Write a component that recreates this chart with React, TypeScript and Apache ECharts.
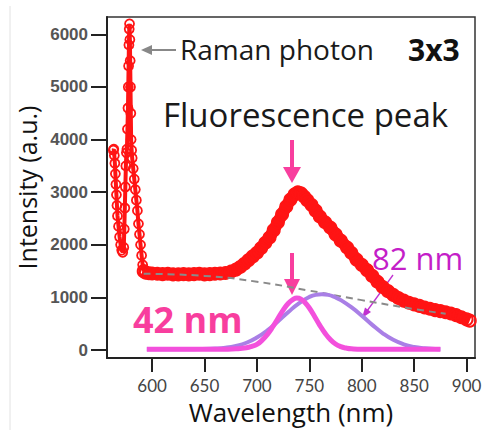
import React, { useEffect, useRef } from "react";
import * as echarts from "echarts";

// Measured spectrum (red circles)
const wavelengthNm = [
  563, 563.5, 564, 564.5, 565, 565.5, 566, 566.5, 567, 568, 569, 570, 571, 572,
  573, 573.5, 574, 574.5, 575, 575.5, 576, 576.5, 577, 577.3, 577.6, 577.9, 578.2, 578.5,
  578.8, 579.1, 579.4, 579.7, 580, 580.5, 581, 582, 583, 584, 585, 586, 587, 588, 589, 590,
  591, 592, 594, 597, 600, 605, 610, 615, 620, 625, 630, 635, 640, 645, 650, 655, 660, 665,
  670, 675, 680, 684, 688, 692, 696, 700, 704, 708, 712, 716, 720, 724, 728, 732, 736, 739,
  742, 745, 748, 752, 756, 760, 765, 770, 775, 780, 786, 790, 795, 800, 805, 810, 815, 820,
  825, 830, 835, 840, 845, 850, 855, 860, 865, 870, 875, 880, 885, 890, 895, 900, 903,
];
const intensityAu = [
  3800, 3820, 3700, 3550, 3350, 3150, 2950, 2750, 2550, 2350, 2150, 2000, 1900, 1860,
  1950, 2300, 2700, 3100, 3500, 3750, 3820, 4200, 4600, 5000, 5400, 5800, 6100, 6200,
  5900, 5500, 5000, 4500, 4000, 3800, 3650, 3450, 3250, 3050, 2850, 2650, 2400, 2200, 2000, 1800,
  1620, 1500, 1470, 1460, 1455, 1450, 1445, 1450, 1440, 1440, 1445, 1440, 1445, 1450, 1440, 1445, 1450, 1455,
  1465, 1490, 1530, 1580, 1640, 1710, 1780, 1850, 1940, 2040, 2140, 2280, 2430, 2580, 2730, 2860, 2960, 3000,
  2980, 2920, 2850, 2760, 2650, 2540, 2430, 2330, 2200, 2080, 1950, 1850, 1720, 1620, 1520, 1410, 1300, 1200,
  1120, 1050, 990, 940, 900, 870, 840, 810, 785, 760, 740, 720, 695, 665, 625, 585, 560,
];
// the Raman region is drawn with a thin line, the fluorescence region with a heavy band
const ramanEndNm = 592;

// Gray dashed background
const baselineNm = [592, 650, 700, 750, 800, 850, 880];
const baselineAu = [1450, 1410, 1300, 1130, 950, 780, 690];

// Narrow component (42 nm)
const narrowNm = [595, 620, 650, 670, 680, 690, 695, 700, 705, 710, 715, 720, 725, 730, 735, 738, 742, 746, 750, 755, 760, 765, 770, 775, 780, 785, 790, 800, 830, 875];
const narrowAu = [15, 15, 15, 18, 25, 45, 70, 110, 190, 300, 440, 600, 760, 890, 970, 990, 970, 900, 800, 640, 470, 320, 200, 115, 65, 40, 25, 15, 15, 15];

// Broad component (82 nm)
const broadNm = [595, 640, 660, 670, 680, 690, 700, 710, 720, 730, 740, 750, 756, 762, 768, 775, 780, 790, 800, 810, 820, 830, 840, 850, 860, 870, 875];
const broadAu = [15, 18, 30, 45, 80, 140, 240, 375, 545, 725, 890, 1010, 1050, 1060, 1050, 1000, 950, 815, 655, 480, 320, 195, 110, 60, 35, 20, 15];

const xTicks = [600, 650, 700, 750, 800, 850, 900];
const yTicks = [0, 1000, 2000, 3000, 4000, 5000, 6000];

const zip = (xs: number[], ys: number[]) => xs.map((x, i) => [x, ys[i]]);

export default function App() {
  const ref = useRef<HTMLDivElement>(null);
  useEffect(() => {
    document.body.style.margin = "0";
    if (!ref.current) return;
    const chart = echarts.init(ref.current, undefined, { renderer: "svg" });
    const pink = "#f83e9e";
    const red = "#ff1414";
    const all = zip(wavelengthNm, intensityAu);
    const ramanPart = all.filter((p) => p[0] <= ramanEndNm);
    const fluorPart = all.filter((p) => p[0] >= ramanEndNm);
    const txt = (extra: any) => ({ textAlign: "left", textVerticalAlign: "middle", align: "left", verticalAlign: "middle", ...extra });
    const option: any = {
      animation: false,
      backgroundColor: "#ffffff",
      grid: {
        left: 107, top: 17, right: 10, bottom: 68,
        show: true, borderColor: "#333", borderWidth: 1.5, backgroundColor: "transparent",
      },
      xAxis: {
        type: "value", min: 557, max: 908,
        name: "Wavelength (nm)", nameLocation: "middle", nameGap: 41,
        nameTextStyle: { fontFamily: "Open Sans", fontSize: 26, lineHeight: 26, color: "#111" },
        axisLine: { show: true, onZero: false, lineStyle: { color: "#222", width: 2 } },
        axisTick: { show: true, length: 14, customValues: xTicks, lineStyle: { color: "#222", width: 2 } },
        axisLabel: { customValues: xTicks, fontFamily: "Lato", fontSize: 17, lineHeight: 17, color: "#444", margin: 19 },
        splitLine: { show: false },
      },
      yAxis: {
        type: "value", min: -150, max: 6330,
        name: "Intensity (a.u.)", nameLocation: "middle", nameGap: 57,
        nameTextStyle: { fontFamily: "Open Sans", fontSize: 25, color: "#111" },
        axisLine: { show: true, onZero: false, lineStyle: { color: "#222", width: 2 } },
        axisTick: { show: true, length: 16, customValues: yTicks, lineStyle: { color: "#222", width: 2 } },
        axisLabel: {
          customValues: yTicks, formatter: (v: number) => String(v),
          fontFamily: "Liberation Sans", fontWeight: "bold", fontSize: 17, color: "#555", margin: 19,
        },
        splitLine: { show: false },
      },
      series: [
        {
          type: "line", data: ramanPart,
          symbol: "circle", symbolSize: 9,
          itemStyle: { color: "rgba(0,0,0,0)", borderColor: red, borderWidth: 1.8 },
          lineStyle: { color: red, width: 4 },
          z: 2,
        },
        {
          type: "line", data: fluorPart, smooth: 0.3,
          symbol: "circle", symbolSize: 12,
          itemStyle: { color: "rgba(0,0,0,0)", borderColor: red, borderWidth: 2 },
          lineStyle: { color: red, width: 12 },
          z: 2,
        },
        {
          type: "line", data: zip(baselineNm, baselineAu), symbol: "none", smooth: true,
          lineStyle: { color: "#8a8a8a", width: 2, type: [7, 5] }, z: 3,
        },
        {
          type: "line", data: zip(broadNm, broadAu), symbol: "none", smooth: true,
          lineStyle: { color: "#a97fe6", width: 4 }, z: 4,
        },
        {
          type: "line", data: zip(narrowNm, narrowAu), symbol: "none", smooth: true,
          lineStyle: { color: "#f350dc", width: 5 }, z: 5,
        },
      ],
      graphic: [
        { type: "line", shape: { x1: 10, y1: 6, x2: 10, y2: 430 }, style: { stroke: "#e2e2e2", lineWidth: 1 } },
        // Raman arrow
        { type: "line", shape: { x1: 176, y1: 50, x2: 150, y2: 50 }, style: { stroke: "#888", lineWidth: 2 } },
        { type: "polygon", shape: { points: [[141, 50], [152, 45], [152, 55]] }, style: { fill: "#888" } },
        // Pink arrows
        { type: "line", shape: { x1: 292, y1: 140, x2: 292, y2: 170 }, style: { stroke: pink, lineWidth: 4 } },
        { type: "polygon", shape: { points: [[283, 167], [301, 167], [292, 183]] }, style: { fill: pink } },
        { type: "line", shape: { x1: 292, y1: 253, x2: 292, y2: 282 }, style: { stroke: pink, lineWidth: 4 } },
        { type: "polygon", shape: { points: [[284, 279], [300, 279], [292, 295]] }, style: { fill: pink } },
        // 82 nm arrow
        { type: "line", shape: { x1: 393, y1: 275, x2: 367, y2: 311 }, style: { stroke: "#c030d0", lineWidth: 1.3 } },
        { type: "polygon", shape: { points: [[362, 318], [371, 312], [365, 307.5]] }, style: { fill: "#c030d0" } },
        // Texts
        { type: "text", x: 180, y: 49, style: txt({ text: "Raman photon", fontFamily: "Open Sans", fontSize: 28, fill: "#1a1a1a" }) },
        { type: "text", x: 408, y: 49, style: txt({ text: "3x3", fontFamily: "Open Sans", fontWeight: "bold", fontSize: 30, fill: "#111" }) },
        { type: "text", x: 163, y: 114, style: txt({ text: "Fluorescence peak", fontFamily: "Open Sans", fontSize: 33, fill: "#1a1a1a" }) },
        { type: "text", x: 133, y: 319, style: txt({ text: "42 nm", fontFamily: "Open Sans", fontWeight: "bold", fontSize: 36, fill: pink }) },
        { type: "text", x: 372, y: 258, style: txt({ text: "82 nm", fontFamily: "Open Sans", fontSize: 31, fill: "#c41ec8" }) },
      ],
    };
    chart.setOption(option);
    return () => chart.dispose();
  }, []);
  return <div ref={ref} style={{ width: 485, height: 430 }} />;
}
